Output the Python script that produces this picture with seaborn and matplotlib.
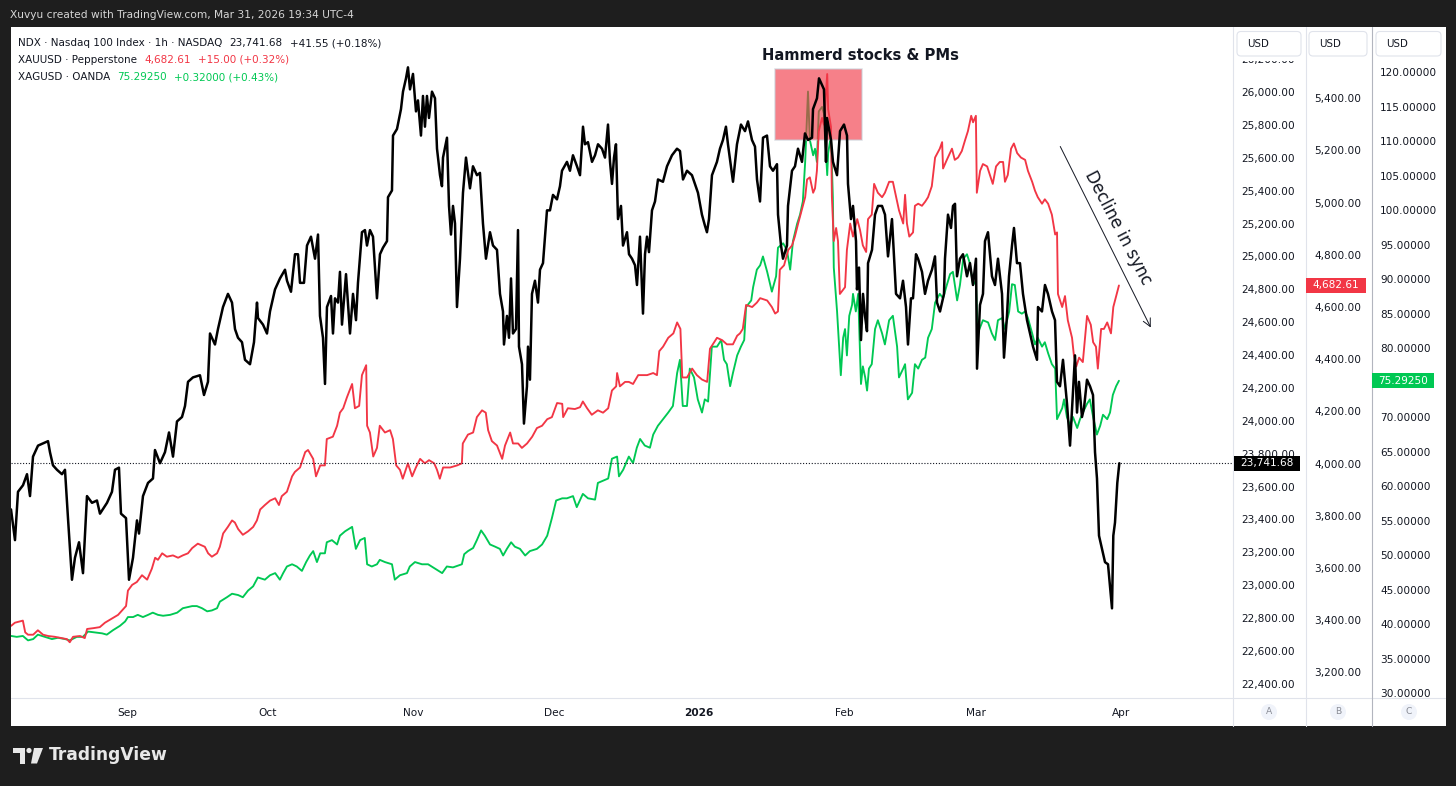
import matplotlib
matplotlib.use("Agg")
import matplotlib.pyplot as plt
import matplotlib.dates as mdates
import matplotlib.patches as mpatches
import matplotlib.transforms as mtransforms
import matplotlib.ticker as mticker
import pandas as pd
import seaborn as sns

W, H = 1456, 786
START = pd.Timestamp("2025-09-01")

# --- series (time = days after 1 Sep 2025) ---
ndx_day = [
    -24.73, -23.88, -23.24, -22.17, -21.32, -20.68, -20.04, -18.97, -16.84, -16.42,
    -15.78, -14.93, -13.86, -13.22, -12.58, -11.73, -11.09, -10.23, -9.38, -8.53,
    -7.46, -6.40, -5.76, -4.26, -3.20, -2.56, -1.71, -1.28, -0.21, 0.43,
    1.28, 2.13, 2.56, 3.41, 4.48, 5.54, 5.97, 7.04, 8.10, 8.96,
    9.81, 10.66, 11.73, 12.37, 13.01, 14.07, 15.56, 16.42, 17.27, 17.70,
    18.76, 19.40, 20.47, 21.53, 22.39, 23.03, 23.67, 24.52, 25.16, 26.23,
    27.08, 27.72, 27.93, 29.00, 29.85, 30.49, 31.56, 32.62, 33.69, 34.12,
    34.97, 35.82, 36.46, 36.89, 37.74, 38.38, 39.23, 40.09, 40.73, 41.15,
    41.79, 42.22, 42.64, 43.50, 43.92, 44.35, 44.99, 45.41, 45.84, 46.70,
    47.55, 48.19, 48.83, 49.25, 50.10, 50.74, 51.17, 51.81, 52.45, 53.30,
    53.94, 54.58, 55.44, 55.65, 56.50, 56.72, 57.57, 58.42, 58.85, 59.49,
    59.91, 60.34, 60.98, 61.62, 62.04, 62.68, 63.11, 63.53, 63.96, 64.39,
    65.03, 65.67, 66.10, 66.74, 67.16, 67.38, 68.23, 68.66, 69.08, 69.51,
    69.94, 70.36, 71.00, 71.64, 72.28, 73.13, 73.77, 74.62, 75.26, 75.90,
    76.54, 77.40, 78.04, 78.89, 79.53, 80.17, 80.38, 81.02, 81.45, 81.88,
    82.30, 82.94, 83.37, 83.58, 84.22, 84.64, 85.28, 85.50, 85.92, 86.35,
    86.99, 87.63, 88.06, 88.70, 89.12, 89.55, 90.19, 90.83, 91.68, 92.32,
    92.75, 93.81, 94.45, 95.09, 95.95, 96.59, 97.23, 97.65, 98.29, 99.15,
    99.79, 100.43, 101.28, 101.92, 102.56, 102.99, 103.41, 103.84, 104.26, 104.69,
    105.33, 105.76, 106.61, 107.04, 107.68, 108.32, 108.74, 109.38, 110.02, 110.45,
    110.87, 111.30, 111.94, 112.58, 113.22, 114.28, 115.14, 116.20, 117.27, 117.91,
    118.55, 119.40, 120.46, 121.10, 121.74, 122.59, 123.23, 123.66, 124.09, 124.73,
    125.79, 126.43, 127.07, 127.71, 128.14, 129.21, 130.06, 130.91, 131.77, 132.41,
    133.26, 133.90, 134.33, 134.97, 135.61, 136.46, 137.10, 137.74, 138.59, 138.81,
    139.45, 139.87, 140.72, 140.94, 141.79, 142.43, 143.07, 143.92, 144.56, 145.20,
    146.06, 146.27, 147.12, 147.55, 148.19, 148.61, 149.04, 149.25, 150.11, 150.53,
    151.39, 152.03, 152.88, 153.52, 153.73, 154.37, 154.80, 155.44, 155.65, 156.08,
    156.50, 156.93, 157.36, 157.78, 158.00, 158.85, 159.49, 160.13, 160.98, 161.62,
    162.26, 163.11, 163.97, 164.82, 165.46, 166.10, 166.52, 167.16, 167.59, 168.23,
    168.66, 169.51, 170.15, 170.79, 171.64, 172.28, 172.71, 173.35, 174.20, 174.41,
    175.05, 175.69, 176.12, 176.55, 176.97, 177.61, 178.25, 179.10, 179.74, 180.38,
    181.02, 181.24, 181.88, 182.51, 182.94, 183.58, 184.43, 185.07, 185.71, 186.57,
    186.99, 187.63, 188.06, 188.70, 189.12, 189.76, 190.40, 191.04, 191.90, 192.54,
    193.18, 194.03, 194.24, 195.09, 195.73, 196.37, 197.23, 197.87, 198.29, 198.93,
    199.57, 200.43, 201.07, 201.71, 202.13, 202.56, 202.98, 203.62, 204.05, 204.69,
    205.33, 205.97, 206.40, 206.82, 207.25, 207.89, 208.53, 209.17, 210.02, 210.30,
    210.66, 211.15, 211.58,
]
ndx_val = [
    23461, 23274, 23568, 23608, 23675, 23542, 23782, 23849, 23876, 23809,
    23729, 23702, 23675, 23702, 23408, 23033, 23167, 23261, 23073, 23542,
    23501, 23515, 23435, 23501, 23568, 23702, 23715, 23435, 23408, 23033,
    23167, 23394, 23314, 23542, 23622, 23649, 23822, 23742, 23809, 23929,
    23782, 23996, 24023, 24090, 24237, 24264, 24277, 24157, 24237, 24531,
    24464, 24558, 24692, 24772, 24719, 24558, 24505, 24478, 24371, 24344,
    24478, 24719, 24625, 24585, 24531, 24665, 24799, 24866, 24919, 24852,
    24785, 25013, 25013, 24839, 24839, 25066, 25120, 24986, 25133, 24638,
    24505, 24224, 24692, 24759, 24531, 24745, 24719, 24906, 24585, 24892,
    24531, 24772, 24612, 24839, 25147, 25160, 25066, 25160, 25120, 24745,
    25013, 25053, 25093, 25360, 25401, 25735, 25775, 25896, 26002, 26083,
    26150, 26016, 26110, 25882, 25949, 25735, 25976, 25789, 25976, 25842,
    26002, 25962, 25655, 25494, 25427, 25601, 25722, 25307, 25133, 25307,
    25200, 24692, 24986, 25387, 25601, 25414, 25548, 25494, 25508, 25200,
    24986, 25147, 25066, 25040, 24772, 24665, 24464, 24638, 24505, 24866,
    24531, 24558, 25160, 24451, 24344, 23983, 24210, 24451, 24250, 24772,
    24852, 24719, 24919, 24959, 25120, 25280, 25280, 25374, 25347, 25427,
    25521, 25575, 25521, 25615, 25548, 25494, 25789, 25682, 25695, 25575,
    25615, 25682, 25655, 25601, 25802, 25575, 25441, 25601, 25682, 25227,
    25307, 25066, 25147, 25013, 24986, 24946, 24826, 25120, 24652, 25013,
    25120, 25026, 25280, 25334, 25468, 25454, 25548, 25615, 25655, 25641,
    25468, 25521, 25494, 25441, 25387, 25254, 25187, 25147, 25227, 25494,
    25575, 25655, 25708, 25789, 25682, 25454, 25682, 25802, 25762, 25821,
    25708, 25668, 25468, 25334, 25722, 25735, 25548, 25521, 25561, 25254,
    25066, 24986, 25066, 25307, 25521, 25548, 25655, 25575, 25748, 25708,
    25722, 25896, 25962, 26083, 26043, 26016, 25575, 25842, 25708, 25575,
    25494, 25762, 25802, 25735, 25441, 25227, 25307, 25093, 24799, 24932,
    24491, 24772, 24638, 24545, 24959, 25040, 25254, 25307, 25307, 25254,
    25000, 25227, 24772, 24745, 24852, 24692, 24464, 24745, 24745, 25013,
    24986, 24906, 24772, 24852, 24919, 25000, 24719, 24665, 24772, 24986,
    25254, 25173, 25307, 25320, 24879, 24986, 25013, 24879, 24959, 24826,
    24986, 24317, 24705, 24772, 25093, 25147, 24879, 24826, 24986, 24772,
    24384, 24638, 24879, 25066, 25173, 24959, 24959, 24772, 24612, 24531,
    24451, 24371, 24692, 24665, 24826, 24772, 24665, 24612, 24237, 24210,
    24371, 24103, 23849, 24184, 24398, 24050, 24237, 24023, 24077, 24250,
    24210, 24157, 23809, 23649, 23301, 23221, 23140, 23127, 22859, 23301,
    23381, 23622, 23741.68,
]

gold_day = [
    -24.7, -23.9, -22.8, -22.2, -21.7, -21.1, -20.0, -19.0, -17.9, -16.8,
    -15.4, -13.9, -12.8, -12.2, -11.5, -10.0, -9.0, -8.5, -7.2, -5.8,
    -4.7, -3.2, -1.9, -0.9, -0.2, 0.2, 1.1, 2.1, 3.2, 4.3,
    5.3, 6.0, 6.6, 7.5, 8.5, 9.8, 10.9, 11.9, 13.0, 13.9,
    15.1, 16.6, 17.3, 18.1, 19.2, 19.8, 20.5, 21.5, 22.4, 23.0,
    23.7, 24.7, 25.8, 26.9, 27.7, 28.4, 29.4, 30.5, 31.6, 32.4,
    33.0, 34.1, 35.2, 35.8, 36.9, 38.0, 38.6, 39.7, 40.3, 41.2,
    42.2, 42.6, 43.9, 44.8, 45.4, 46.1, 46.9, 48.0, 48.6, 49.5,
    50.1, 51.0, 51.2, 51.8, 52.5, 53.3, 53.9, 55.0, 56.1, 56.7,
    57.4, 58.2, 58.8, 59.9, 60.8, 61.6, 62.5, 63.5, 64.4, 65.5,
    66.1, 66.7, 67.4, 68.9, 70.4, 71.4, 71.6, 72.7, 73.8, 74.6,
    75.7, 76.5, 77.0, 77.8, 78.9, 80.0, 80.6, 81.7, 82.3, 83.4,
    84.2, 85.3, 86.4, 87.4, 88.5, 89.6, 90.6, 91.7, 92.8, 93.0,
    94.0, 95.5, 96.6, 97.2, 98.1, 99.1, 100.4, 101.5, 102.6, 103.4,
    104.3, 104.5, 105.1, 106.2, 107.0, 107.9, 109.0, 110.9, 112.2, 113.0,
    113.5, 114.3, 115.4, 116.5, 117.3, 118.0, 118.4, 119.4, 120.5, 121.5,
    122.6, 123.7, 124.3, 125.8, 126.9, 127.9, 129.2, 130.1, 130.7, 131.3,
    132.0, 133.3, 134.3, 135.0, 136.5, 137.5, 138.2, 138.8, 139.2, 140.1,
    141.0, 141.8, 142.4, 143.1, 144.1, 144.6, 145.0, 145.6, 146.3, 146.7,
    147.1, 147.5, 148.2, 148.6, 149.3, 149.5, 150.1, 150.3, 150.7, 151.2,
    151.6, 152.0, 152.7, 153.1, 153.5, 154.2, 154.8, 155.7, 156.3, 156.9,
    157.6, 158.0, 158.8, 159.3, 160.1, 161.0, 161.6, 162.5, 163.3, 164.0,
    164.6, 165.5, 165.9, 166.3, 166.8, 167.6, 168.0, 168.7, 169.5, 170.2,
    170.8, 171.6, 172.3, 173.3, 173.8, 174.0, 174.8, 175.9, 176.5, 177.2,
    178.0, 178.7, 179.3, 180.0, 180.4, 181.0, 181.2, 181.9, 182.5, 183.4,
    184.0, 184.6, 185.3, 186.1, 186.8, 187.2, 187.8, 188.5, 189.1, 189.8,
    190.6, 191.5, 192.1, 193.0, 193.6, 194.2, 195.1, 195.7, 196.4, 197.2,
    197.9, 198.3, 198.5, 199.4, 200.0, 200.6, 201.5, 201.9, 202.4, 203.0,
    203.8, 204.7, 205.5, 206.0, 206.6, 207.0, 207.7, 208.3, 209.0, 209.8,
    210.3, 210.9, 211.5,
]
gold_val = [
    3378, 3390, 3395, 3398, 3353, 3344, 3344, 3361, 3344, 3339,
    3336, 3331, 3327, 3315, 3336, 3339, 3331, 3366, 3369, 3373,
    3390, 3406, 3420, 3440, 3454, 3513, 3535, 3546, 3572, 3555,
    3597, 3639, 3631, 3656, 3643, 3648, 3639, 3648, 3656, 3676,
    3693, 3681, 3656, 3643, 3656, 3681, 3732, 3757, 3782, 3774,
    3749, 3727, 3740, 3757, 3782, 3824, 3841, 3858, 3867, 3841,
    3875, 3892, 3951, 3968, 3985, 4044, 4052, 4018, 3951, 3993,
    3993, 4094, 4103, 4145, 4195, 4212, 4254, 4305, 4212, 4221,
    4339, 4377, 4145, 4119, 4027, 4060, 4145, 4119, 4128, 4094,
    3993, 3976, 3942, 4001, 3951, 3985, 4018, 4001, 4013, 4001,
    3976, 3942, 3985, 3985, 3993, 4001, 4077, 4111, 4119, 4178,
    4204, 4195, 4128, 4086, 4069, 4018, 4069, 4119, 4077, 4077,
    4060, 4077, 4103, 4136, 4145, 4170, 4178, 4232, 4229, 4178,
    4212, 4209, 4216, 4238, 4212, 4187, 4204, 4195, 4212, 4280,
    4296, 4347, 4296, 4313, 4313, 4305, 4339, 4339, 4347, 4339,
    4431, 4448, 4482, 4499, 4541, 4516, 4330, 4330, 4364, 4339,
    4322, 4313, 4440, 4482, 4473, 4457, 4457, 4490, 4499, 4516,
    4608, 4600, 4617, 4634, 4625, 4600, 4575, 4583, 4743, 4760,
    4819, 4836, 4870, 4920, 4987, 5021, 5089, 5097, 5038, 5055,
    5122, 5274, 5325, 5299, 5493, 5358, 5291, 5021, 4853, 4903,
    4853, 4650, 4667, 4676, 4819, 4920, 4870, 4937, 4895, 4836,
    4811, 4937, 4954, 5072, 5038, 5021, 5038, 5080, 5080, 5021,
    4971, 4920, 5030, 4920, 4870, 4886, 4988, 4996, 4988, 5004,
    5021, 5063, 5173, 5207, 5232, 5131, 5164, 5207, 5164, 5173,
    5198, 5240, 5274, 5333, 5308, 5333, 5038, 5122, 5148, 5139,
    5106, 5072, 5139, 5156, 5156, 5080, 5106, 5207, 5227, 5190,
    5173, 5164, 5122, 5080, 5046, 5021, 4996, 5013, 4996, 4954,
    4878, 4886, 4650, 4600, 4642, 4549, 4482, 4414, 4372, 4406,
    4389, 4566, 4532, 4465, 4448, 4364, 4516, 4516, 4541, 4499,
    4600, 4642, 4682.61,
]

silver_day = [
    -24.7, -23.5, -22.2, -21.1, -20.0, -19.0, -17.5, -16.0, -14.7, -13.2,
    -12.2, -10.7, -9.4, -8.3, -6.8, -5.3, -4.3, -3.0, -1.5, -0.4,
    0.2, 1.3, 2.3, 3.4, 4.5, 5.5, 6.6, 7.7, 9.2, 10.7,
    11.9, 13.9, 14.9, 16.0, 17.1, 18.1, 19.2, 19.8, 21.3, 22.4,
    23.7, 24.7, 25.8, 26.9, 27.9, 29.4, 30.5, 31.6, 32.6, 33.3,
    34.1, 35.2, 36.2, 37.3, 38.2, 39.0, 39.7, 40.5, 41.2, 42.2,
    42.6, 43.7, 44.8, 45.4, 46.5, 48.0, 48.8, 49.7, 50.7, 51.2,
    52.2, 53.3, 53.9, 55.0, 56.5, 57.1, 58.2, 59.7, 60.3, 61.4,
    62.9, 64.2, 65.7, 67.2, 68.2, 69.5, 71.4, 71.9, 72.7, 73.8,
    74.6, 75.5, 76.3, 77.4, 78.5, 79.5, 80.2, 81.0, 81.9, 82.7,
    83.8, 84.9, 85.9, 87.4, 88.5, 89.6, 90.6, 91.5, 92.8, 93.8,
    95.1, 95.9, 97.2, 98.3, 99.8, 100.4, 101.5, 102.6, 103.4, 104.5,
    104.9, 105.8, 107.0, 107.9, 108.7, 109.4, 110.4, 111.5, 112.2, 113.2,
    114.3, 115.4, 116.4, 117.3, 117.9, 118.5, 119.4, 120.0, 120.9, 121.7,
    122.6, 123.2, 123.9, 124.7, 125.8, 126.7, 127.3, 127.9, 128.6, 129.2,
    130.1, 130.9, 131.6, 132.0, 133.1, 133.5, 134.3, 135.0, 135.6, 136.5,
    137.5, 138.4, 138.8, 139.9, 140.7, 141.4, 142.0, 142.9, 143.5, 144.1,
    144.6, 145.2, 145.6, 146.3, 146.7, 147.1, 147.5, 148.2, 148.6, 149.3,
    149.5, 150.1, 150.5, 150.7, 151.4, 152.2, 152.7, 153.1, 153.5, 154.0,
    154.6, 154.8, 155.4, 155.9, 156.5, 156.9, 157.4, 157.8, 158.2, 158.8,
    159.5, 160.1, 161.0, 161.6, 162.5, 163.3, 164.2, 164.6, 165.5, 165.9,
    166.5, 167.4, 168.0, 168.7, 169.5, 170.2, 170.8, 171.6, 172.3, 173.3,
    174.0, 174.8, 175.5, 176.1, 177.0, 177.6, 178.3, 179.1, 179.7, 180.4,
    181.0, 181.4, 182.5, 183.6, 184.4, 185.1, 185.7, 186.6, 187.2, 188.1,
    188.7, 189.3, 190.0, 190.8, 191.5, 192.1, 193.0, 193.6, 194.2, 195.1,
    195.7, 196.4, 197.2, 197.9, 198.3, 199.4, 199.8, 200.4, 201.1, 201.7,
    202.6, 203.2, 203.8, 204.7, 205.3, 206.0, 206.8, 207.5, 208.1, 209.0,
    209.6, 210.2, 210.9, 211.5,
]
silver_val = [
    38.31, 38.18, 38.31, 37.67, 37.86, 38.50, 38.18, 37.86, 38.05, 37.86,
    37.67, 38.18, 38.18, 38.95, 38.82, 38.69, 38.50, 39.14, 39.78, 40.41,
    41.05, 41.05, 41.37, 41.05, 41.37, 41.69, 41.37, 41.24, 41.37, 41.69,
    42.33, 42.64, 42.64, 42.33, 41.88, 42.01, 42.33, 43.28, 43.92, 44.43,
    44.24, 43.92, 44.88, 45.51, 46.79, 46.47, 47.11, 47.42, 46.47, 47.42,
    48.38, 48.70, 48.38, 47.74, 49.02, 49.97, 50.61, 49.02, 50.29, 50.29,
    51.89, 52.20, 51.57, 52.84, 53.48, 54.12, 50.93, 52.20, 52.52, 48.70,
    48.38, 48.70, 49.34, 49.02, 48.70, 46.47, 47.11, 47.42, 48.38, 49.02,
    48.70, 48.70, 48.06, 47.42, 48.38, 48.25, 48.70, 50.16, 50.61, 51.06,
    52.20, 53.61, 52.84, 51.57, 51.25, 50.93, 49.97, 50.93, 51.89, 51.25,
    50.93, 49.97, 50.61, 50.93, 51.57, 52.84, 55.39, 57.94, 58.26, 58.26,
    58.58, 56.98, 58.90, 58.26, 58.07, 60.49, 60.81, 61.13, 64.00, 64.31,
    61.44, 62.40, 64.31, 63.36, 65.59, 66.86, 65.91, 65.59, 67.50, 68.77,
    69.73, 70.69, 71.64, 76.42, 78.33, 71.64, 71.64, 77.06, 75.78, 72.60,
    70.69, 72.60, 72.28, 80.24, 80.24, 81.20, 78.33, 77.69, 74.51, 76.42,
    78.97, 80.24, 81.20, 85.98, 86.94, 88.85, 91.40, 92.03, 93.31, 91.08,
    88.21, 90.44, 94.58, 95.22, 94.26, 91.40, 95.54, 98.09, 99.36, 101.28,
    107.01, 117.21, 110.20, 107.97, 108.92, 107.01, 114.34, 114.98, 114.02, 105.10,
    108.29, 110.84, 101.91, 91.71, 85.34, 76.10, 81.52, 82.79, 78.97, 84.71,
    86.30, 87.89, 85.34, 87.89, 74.83, 77.38, 75.78, 73.87, 77.06, 77.70,
    82.79, 84.07, 82.16, 80.56, 84.07, 84.71, 80.24, 75.78, 77.06, 77.70,
    72.60, 73.55, 77.70, 77.06, 78.33, 78.65, 81.52, 82.79, 86.62, 87.89,
    87.26, 89.17, 90.76, 91.08, 86.94, 89.17, 92.99, 93.63, 92.35, 89.17,
    89.80, 82.16, 84.07, 83.75, 82.16, 81.20, 84.07, 84.39, 82.79, 85.34,
    89.29, 89.17, 85.34, 85.02, 85.34, 84.39, 82.16, 80.56, 81.52, 80.24,
    80.88, 79.29, 77.70, 77.06, 69.73, 71.32, 72.60, 70.05, 68.77, 70.05,
    68.45, 69.73, 70.69, 71.96, 72.60, 70.05, 67.50, 68.77, 70.37, 69.73,
    70.69, 73.24, 74.51, 75.2925,
]

month_ticks = ["2025-09-01", "2025-10-01", "2025-11-01", "2025-12-01",
               "2026-01-01", "2026-02-01", "2026-03-01", "2026-04-01"]
month_labels = ["Sep", "Oct", "Nov", "Dec", "2026", "Feb", "Mar", "Apr"]

legend_rows = [
    [("NDX · Nasdaq 100 Index · 1h · NASDAQ", "ink"), ("23,741.68", "ink"), ("+41.55 (+0.18%)", "ink")],
    [("XAUUSD · Pepperstone", "ink"), ("4,682.61", "red"), ("+15.00 (+0.32%)", "red")],
    [("XAGUSD · OANDA", "ink"), ("75.29250", "green"), ("+0.32000 (+0.43%)", "green")],
]

BG = "#1e1e1e"
INK = "#131722"
RED = "#f23645"
GREEN = "#00c853"
LINE = "#e0e3eb"
COLORS = {"ink": INK, "red": RED, "green": GREEN}

# top-left pixel coordinates -> display coordinates
PX = mtransforms.Affine2D().scale(1, -1).translate(0, H)


def to_dates(days):
    return START + pd.to_timedelta(days, unit="D")


def px_rect(fig, x0, y0, x1, y1, **kw):
    fig.add_artist(mpatches.Rectangle((x0, y0), x1 - x0, y1 - y0, transform=PX, **kw))


def px_line(fig, xs, ys, **kw):
    fig.add_artist(plt.Line2D(xs, ys, transform=PX, **kw))


def y_px(ax, value):
    return H - ax.transData.transform((0, value))[1]


def scale_formatter(ax, fmt, last, hide_near_tag):
    """Price labels; labels under the header box or the last-price tag are left out"""
    def fmt_fn(v, pos):
        y = y_px(ax, v)
        if y < 50:
            return ""
        if hide_near_tag and abs(y - y_px(ax, last)) < 9:
            return ""
        return fmt.format(v)
    return mticker.FuncFormatter(fmt_fn)


def price_tag(fig, ax, value, x0, x1, text, color):
    """Coloured last-price box sitting in an axis column"""
    y = y_px(ax, value)
    px_rect(fig, x0, y - 7.5, x1, y + 7.5, fc=color, ec="none", zorder=6)
    fig.text(x0 + 6, y, text, transform=PX, color="white", fontsize=7.6,
             va="center", ha="left", zorder=7)


def draw_frame(fig):
    # white chart panel on the dark snapshot frame
    px_rect(fig, 11, 27, 1446, 726, fc="white", ec="none", zorder=-1)
    fig.text(10, 15, "Xuvyu created with TradingView.com, Mar 31, 2026 19:34 UTC-4",
             transform=PX, color="#d6d6d6", fontsize=7.7, va="center")

    # TradingView logo
    fig.add_artist(mpatches.Polygon([(12.5, 748), (25, 748), (25, 763.5), (19.5, 763.5),
                                     (19.5, 753), (12.5, 753)], transform=PX, fc="#e8e8e8", ec="none"))
    fig.add_artist(mpatches.Circle((29, 750.5), 2.6, transform=PX, fc="#e8e8e8", ec="none"))
    fig.add_artist(mpatches.Polygon([(34, 748), (43, 748), (37, 763.5), (31, 763.5)],
                                    transform=PX, fc="#e8e8e8", ec="none"))
    fig.text(49, 755.5, "TradingView", transform=PX, color="#e8e8e8", fontsize=12.3,
             fontweight="bold", va="center")

    # header strip and bottom strip of the price columns
    px_rect(fig, 1233, 27, 1445, 60.5, fc="white", ec="none", zorder=2)
    px_rect(fig, 1233, 698.5, 1445, 726, fc="white", ec="none", zorder=2)
    px_line(fig, [11, 1445], [698, 698], color=LINE, lw=0.8, zorder=3)
    for x, c in [(1233, LINE), (1306, LINE), (1372, "#b2b5be")]:
        px_line(fig, [x, x], [27, 726], color=c, lw=0.8, zorder=3)

    for x0, x1, name, cx in [(1237, 1301, "A", 1269), (1309, 1367, "B", 1338), (1376, 1441, "C", 1409)]:
        fig.add_artist(mpatches.FancyBboxPatch((x0, 31.5), x1 - x0, 24.5,
                                               boxstyle="round,pad=0,rounding_size=4",
                                               transform=PX, fc="white", ec=LINE, lw=0.8, zorder=4))
        fig.text(x0 + 10, 44, "USD", transform=PX, color=INK, fontsize=7.4, va="center", zorder=5)
        fig.add_artist(mpatches.Circle((cx, 712), 8, transform=PX, fc="#f0f3fa", ec="none", zorder=4))
        fig.text(cx, 712, name, transform=PX, color="#8a8d96", fontsize=6.6,
                 ha="center", va="center", zorder=5)


def draw_legend(fig):
    renderer = fig.canvas.get_renderer()
    for row, y in zip(legend_rows, [43, 60, 77]):
        x = 18
        for text, key in row:
            t = fig.text(x, y, text, transform=PX, color=COLORS[key], fontsize=7.5,
                         va="center", ha="left", zorder=8)
            x += t.get_window_extent(renderer=renderer).width + 7


def main():
    sns.set_theme(style="white")
    plt.rcParams["font.family"] = ["DejaVu Sans"]

    fig = plt.figure(figsize=(W / 100, H / 100), dpi=100, facecolor=BG)
    ax_s = fig.add_axes([11 / W, (H - 698) / H, 1222 / W, 670 / H])
    ax_s.set_facecolor("white")
    ax_g = ax_s.twinx()
    ax_n = ax_s.twinx()

    silver = pd.DataFrame({"time": to_dates(silver_day), "price": silver_val})
    gold = pd.DataFrame({"time": to_dates(gold_day), "price": gold_val})
    ndx = pd.DataFrame({"time": to_dates(ndx_day), "price": ndx_val})

    sns.lineplot(data=silver, x="time", y="price", ax=ax_s, color=GREEN, linewidth=1.35,
                 estimator=None, sort=False, legend=False, zorder=2)
    sns.lineplot(data=gold, x="time", y="price", ax=ax_g, color=RED, linewidth=1.35,
                 estimator=None, sort=False, legend=False, zorder=2)
    ax_n.axhline(ndx_val[-1], color=INK, lw=0.8, ls=(0, (1, 1.6)), zorder=1)
    sns.lineplot(data=ndx, x="time", y="price", ax=ax_n, color="black", linewidth=1.8,
                 estimator=None, sort=False, legend=False, zorder=2)

    ax_s.set_xlim(START + pd.Timedelta(days=-24.73), START + pd.Timedelta(days=235.82))
    ax_n.set_ylim(22313.7, 26389.3)
    ax_g.set_ylim(3101.4, 5669.5)
    ax_s.set_ylim(29.32, 126.42)

    # three price scales side by side on the right (A, B, C columns)
    ax_s.yaxis.tick_right()
    ax_g.spines["right"].set_position(("axes", (1306 - 11) / 1222))
    ax_s.spines["right"].set_position(("axes", (1372 - 11) / 1222))
    specs = [(ax_n, 200, "{:,.2f}", ndx_val[-1], False),
             (ax_g, 200, "{:,.2f}", gold_val[-1], True),
             (ax_s, 5, "{:.5f}", silver_val[-1], True)]
    for ax, step, fmt, last, hide in specs:
        ax.yaxis.set_major_locator(mticker.MultipleLocator(step))
        ax.yaxis.set_major_formatter(scale_formatter(ax, fmt, last, hide))
        ax.tick_params(axis="y", which="both", left=False, labelleft=False, right=True,
                       labelright=True, length=0, pad=5.8, labelsize=7.6, labelcolor=INK)
        ax.set_ylabel("")
        ax.set_xlabel("")
        for sp in ax.spines.values():
            sp.set_visible(False)

    ax_s.set_xticks(mdates.date2num(pd.to_datetime(month_ticks)))
    ax_s.set_xticklabels(month_labels)
    ax_s.tick_params(axis="x", length=0, pad=7, labelsize=7.6, labelcolor=INK)
    for lab in ax_s.get_xticklabels():
        if lab.get_text() == "2026":
            lab.set_fontweight("bold")

    # "Hammerd" box: above silver, under gold and NDX
    x0 = mdates.date2num(START + pd.Timedelta(days=138.2))
    x1 = mdates.date2num(START + pd.Timedelta(days=156.7))
    ax_s.add_patch(mpatches.Rectangle((x0, 110.19), x1 - x0, 10.24, fc=RED, alpha=0.63,
                                      ec="#c9ccd4", lw=1.1, zorder=3))

    draw_frame(fig)
    draw_legend(fig)

    price_tag(fig, ax_n, ndx_val[-1], 1234, 1300, "23,741.68", "black")
    price_tag(fig, ax_g, gold_val[-1], 1306, 1366, "4,682.61", RED)
    price_tag(fig, ax_s, silver_val[-1], 1372, 1434, "75.29250", GREEN)

    fig.text(861, 56, "Hammerd stocks & PMs", transform=PX, color=INK, fontsize=10.6,
             fontweight="bold", ha="center", va="center", zorder=8)
    fig.add_artist(mpatches.FancyArrowPatch((1059, 144), (1152, 330), transform=PX,
                                            arrowstyle="->", mutation_scale=14,
                                            color=INK, lw=0.7, zorder=8))
    fig.text(1118, 228, "Decline in sync", transform=PX, color=INK, fontsize=12,
             rotation=-62.5, rotation_mode="anchor", ha="center", va="center", zorder=8)

    fig.savefig("out.png", dpi=100, facecolor=BG)


if __name__ == "__main__":
    main()
